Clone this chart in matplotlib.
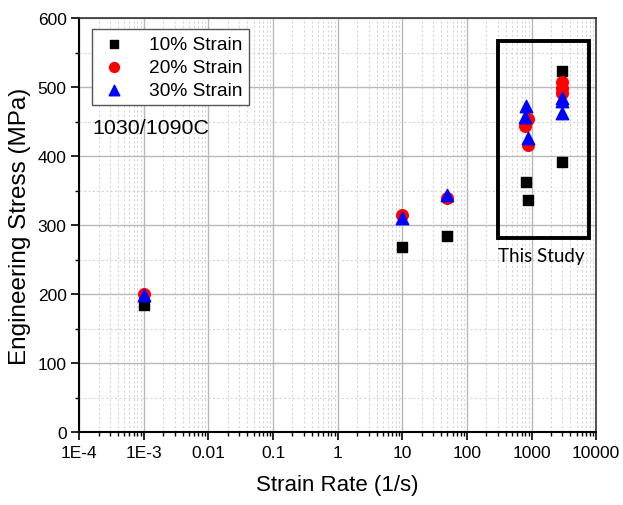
import matplotlib
matplotlib.use("Agg")
import matplotlib.pyplot as plt
from matplotlib.patches import Rectangle
from matplotlib.ticker import FixedLocator, LogLocator, MultipleLocator, NullFormatter

plt.rcParams['font.family'] = ['Liberation Sans', 'DejaVu Sans']

# Strain rate (1/s) and engineering stress (MPa) at three strain levels
rate_10 = [1e-3, 10, 50, 830, 890, 3000, 3000, 3000]
stress_10 = [185, 269, 284, 362, 336, 523, 495, 391]

rate_20 = [1e-3, 10, 50, 780, 890, 890, 3000, 3000, 3000]
stress_20 = [200, 315, 339, 444, 416, 454, 507, 499, 491]

rate_30 = [1e-3, 10, 50, 830, 780, 890, 3000, 3000, 3000]
stress_30 = [199, 310, 344, 473, 457, 426, 485, 480, 463]

x_ticks = [1e-4, 1e-3, 1e-2, 1e-1, 1, 10, 100, 1000, 10000]
x_tick_labels = ["1E-4", "1E-3", "0.01", "0.1", "1", "10", "100", "1000", "10000"]

fig = plt.figure(figsize=(6.23, 5.06), dpi=100)
ax = fig.add_axes([0.127, 0.144, 0.830, 0.818])

ax.set_xscale('log')
ax.set_xlim(1e-4, 1e4)
ax.set_ylim(0, 600)

ax.scatter(rate_10, stress_10, marker='s', s=55, color='black', zorder=3, label='10% Strain')
ax.scatter(rate_20, stress_20, marker='o', s=70, color='#ff0000', zorder=4, label='20% Strain')
ax.scatter(rate_30, stress_30, marker='^', s=80, color='#0000ff', zorder=5, label='30% Strain')

ax.xaxis.set_major_locator(FixedLocator(x_ticks))
ax.set_xticklabels(x_tick_labels)
ax.xaxis.set_minor_locator(LogLocator(base=10, subs=range(2, 10), numticks=20))
ax.xaxis.set_minor_formatter(NullFormatter())
ax.yaxis.set_major_locator(MultipleLocator(100))
ax.yaxis.set_minor_locator(MultipleLocator(50))

ax.grid(which='major', color='#b8b8b8', linewidth=1.0, linestyle='-', zorder=0)
ax.grid(which='minor', color='#d6d6d6', linewidth=0.8, linestyle=(0, (2, 2)), zorder=0)
ax.set_axisbelow(True)

ax.tick_params(which='major', direction='out', length=6, width=1.2, labelsize=12.5, pad=3)
ax.tick_params(which='minor', direction='out', length=3, width=1.0)
for side in ['left', 'bottom']:
    ax.spines[side].set_linewidth(1.5)
for side in ['top', 'right']:
    ax.spines[side].set_linewidth(1.2)
    ax.spines[side].set_color('#333333')

ax.set_xlabel('Strain Rate (1/s)', fontsize=16, labelpad=10)
ax.set_ylabel('Engineering Stress (MPa)', fontsize=17.5, labelpad=5)

leg = ax.legend(loc='upper left', bbox_to_anchor=(0.025, 0.974), borderaxespad=0,
                fontsize=13.8, frameon=True, fancybox=False, edgecolor='#555555',
                framealpha=1, handletextpad=1.0, labelspacing=0.28, borderpad=0.35,
                handlelength=1.6, markerscale=0.85)
leg.get_frame().set_linewidth(1.0)

ax.text(0.025, 0.735, '1030/1090C', transform=ax.transAxes, fontsize=15.4,
        ha='left', va='center')

# Box around the present study's data
box = Rectangle((306, 281), 7850 - 306, 567 - 281, fill=False,
                edgecolor='black', linewidth=2.8, zorder=6)
ax.add_patch(box)
ax.text(1400, 256, 'This Study', fontsize=13.5, ha='center', va='center',
        family=['Lato', 'DejaVu Sans'], zorder=6)

fig.savefig('out.png', dpi=100)
